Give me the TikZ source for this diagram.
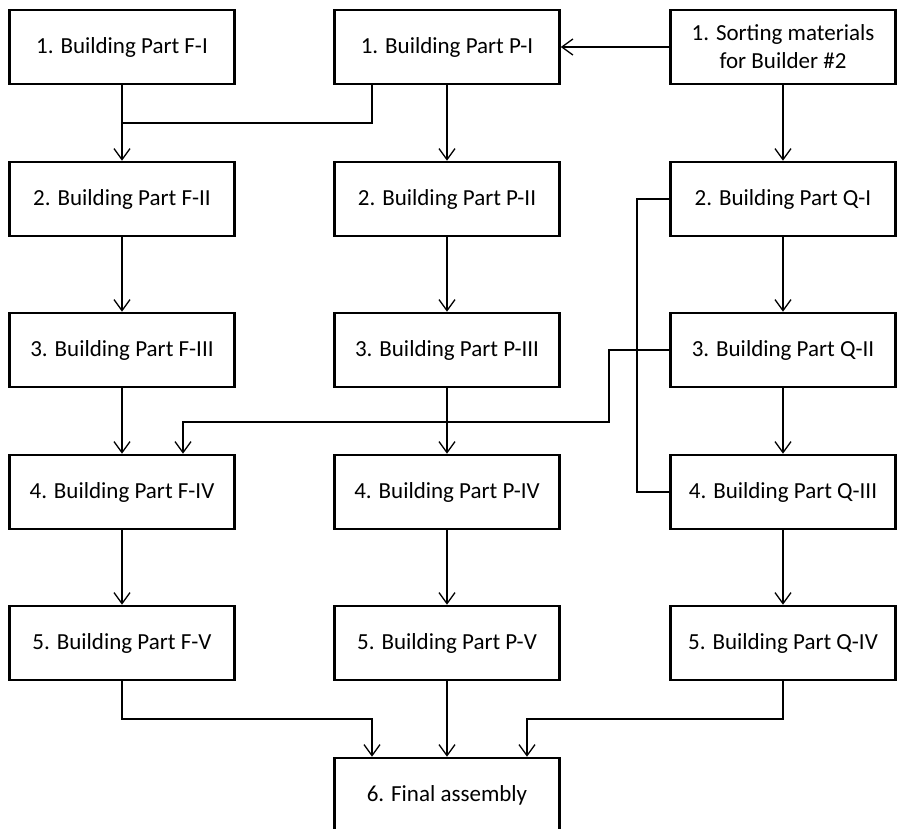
\documentclass[tikz,border=0pt]{standalone}
\usepackage{fontspec}
\setmainfont{Carlito}
\usepackage{tikz}
\usetikzlibrary{arrows.meta, positioning, calc}
\tikzset{
  part/.style={draw, line width=2.6pt, minimum width=225pt, minimum height=74pt,
    inner sep=0pt, align=center, font=\fontsize{23}{28}\selectfont},
  link/.style={line width=1.3pt, -{Straight Barb[length=11pt, width=16pt, line width=1.3pt]}},
  plain/.style={line width=1.3pt}
}

\begin{document}
\begin{tikzpicture}[x=1pt, y=-1pt]
\useasboundingbox (0,0) rectangle (898,829);
% column F
\node[part] (f1) at (122,47) {1. Building Part F-I};
\node[part] (f2) at (122,199) {2. Building Part F-II};
\node[part] (f3) at (122,350) {3. Building Part F-III};
\node[part] (f4) at (122,492) {4. Building Part F-IV};
\node[part] (f5) at (122,643) {5. Building Part F-V};
% column P
\node[part] (p1) at (447,47) {1. Building Part P-I};
\node[part] (p2) at (447,199) {2. Building Part P-II};
\node[part] (p3) at (447,350) {3. Building Part P-III};
\node[part] (p4) at (447,492) {4. Building Part P-IV};
\node[part] (p5) at (447,643) {5. Building Part P-V};
\node[part] (fin) at (447,795) {6. Final assembly};
% column Q
\node[part] (s1) at (783,47) {1. Sorting materials\\for Builder \#2};
\node[part] (q1) at (783,199) {2. Building Part Q-I};
\node[part] (q2) at (783,350) {3. Building Part Q-II};
\node[part] (q3) at (783,492) {4. Building Part Q-III};
\node[part] (q4) at (783,643) {5. Building Part Q-IV};
% bends
\coordinate (pj) at (372,123);
\coordinate (qa) at (637,0);
\coordinate (qb) at (609,422);
\coordinate (qc) at (183,422);
\coordinate (ml) at (372,719);
\coordinate (mr) at (527,719);
% straight links
\draw[link] (f1) -- (f2);
\draw[link] (f2) -- (f3);
\draw[link] (f3) -- (f4);
\draw[link] (f4) -- (f5);
\draw[link] (p1) -- (p2);
\draw[link] (p2) -- (p3);
\draw[link] (p3) -- (p4);
\draw[link] (p4) -- (p5);
\draw[link] (p5) -- (fin);
\draw[link] (s1) -- (q1);
\draw[link] (q1) -- (q2);
\draw[link] (q2) -- (q3);
\draw[link] (q3) -- (q4);
\draw[link] (s1.west) -- (p1.east);
% bent links
\draw[plain] (p1.south -| pj) |- (f1 |- pj);
\draw[plain] (q1.west) -| (qa |- q3.west) -- (q3.west);
\draw[link] (q2.west) -| (qb) -- (qc) -- (qc |- f4.north);
\draw[link] (f5.south) |- (ml) -- (ml |- fin.north);
\draw[link] (q4.south) |- (mr) -- (mr |- fin.north);
\end{tikzpicture}
\end{document}
